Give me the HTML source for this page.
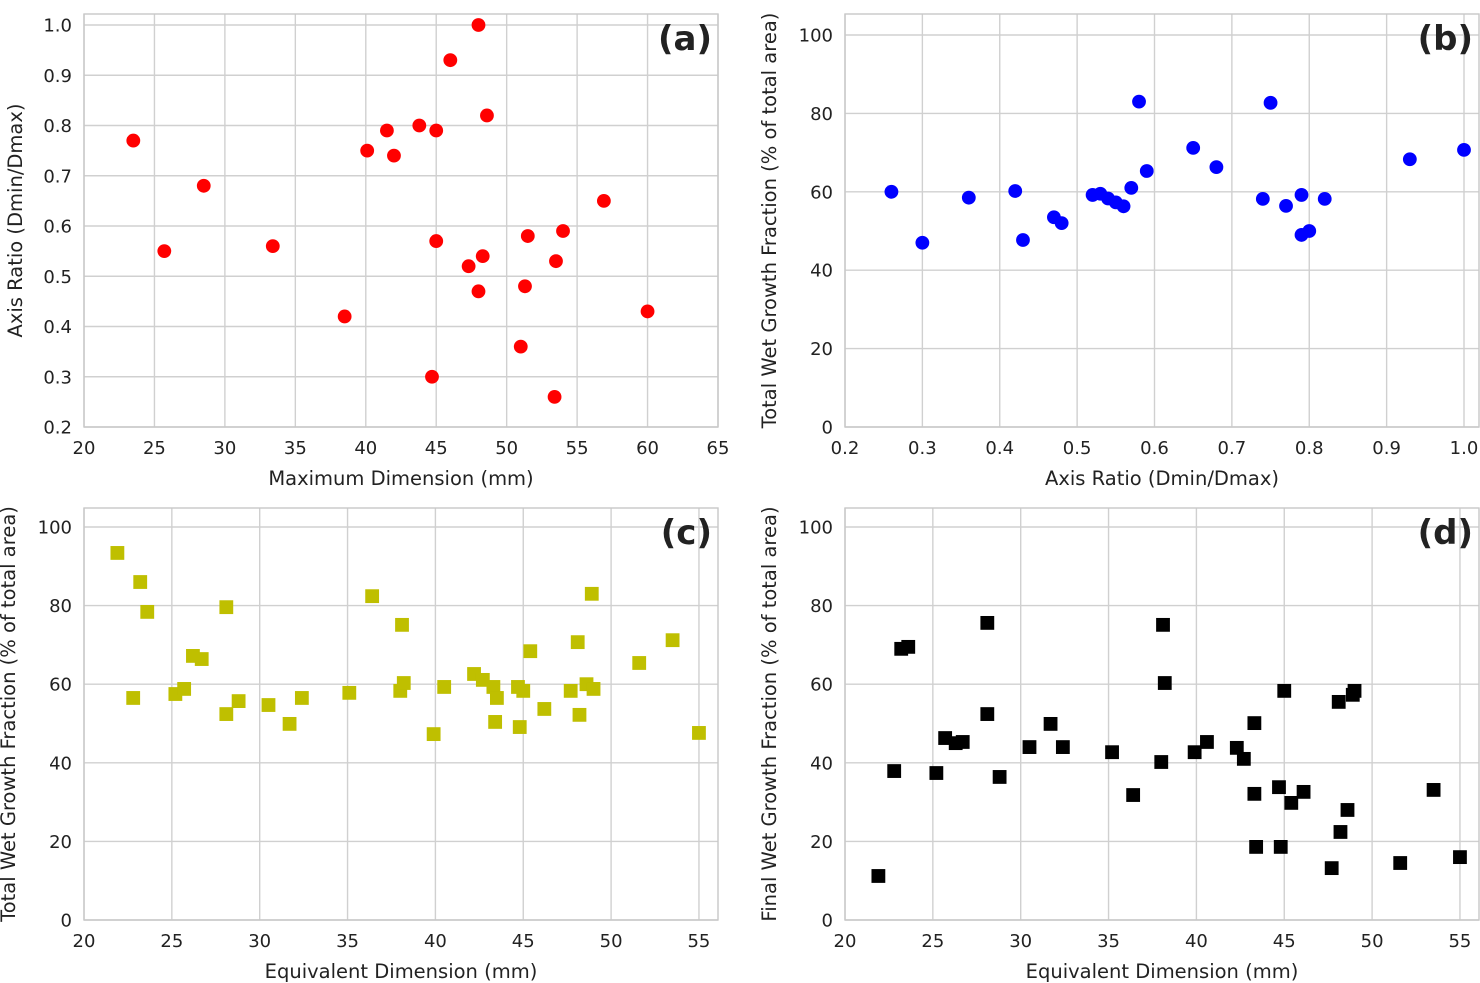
<!DOCTYPE html>
<html><head><meta charset="utf-8"><style>
html,body{margin:0;padding:0;background:#fff}
svg{display:block;font-family:"DejaVu Sans","Liberation Sans",sans-serif}
</style></head><body>
<svg id="chart" width="1480" height="983"></svg>
<script>
const aX=[23.5,25.7,28.5,33.4,38.5,40.1,41.5,42,43.8,44.7,45,45,46,47.3,48,48,48.3,48.6,51,51.3,51.5,53.4,53.5,54,56.9,60];
const aY=[0.77,0.55,0.68,0.56,0.42,0.75,0.79,0.74,0.80,0.30,0.79,0.57,0.93,0.52,1.0,0.47,0.54,0.82,0.36,0.48,0.58,0.26,0.53,0.59,0.65,0.43];
const bX=[0.26,0.30,0.36,0.42,0.43,0.47,0.48,0.52,0.53,0.54,0.55,0.56,0.57,0.58,0.59,0.65,0.68,0.74,0.75,0.77,0.79,0.79,0.80,0.82,0.93,1.0];
const bY=[60,47,58.5,60.2,47.7,53.5,52,59.2,59.5,58.3,57.3,56.3,61,83,65.3,71.2,66.3,58.2,82.7,56.4,59.2,49,50,58.2,68.3,70.7];
const cX=[21.9,22.8,23.2,23.6,25.2,25.7,26.2,26.7,28.1,28.1,28.8,30.5,31.7,32.4,35.1,36.4,38,38.1,38.2,39.9,40.5,42.2,42.7,43.3,43.4,43.5,44.7,44.8,45,45.4,46.2,47.7,48.1,48.2,48.6,48.9,49,51.6,53.5,55];
const cY=[93.4,56.5,86,78.4,57.5,58.8,67.2,66.4,79.6,52.4,55.7,54.7,49.9,56.5,57.8,82.4,58.3,75.1,60.3,47.3,59.3,62.6,61.1,59.3,50.4,56.5,59.3,49.1,58.3,68.4,53.7,58.3,70.7,52.2,60,83,58.8,65.4,71.2,47.6];
const dX=[21.9,22.8,23.2,23.6,25.2,25.7,26.3,26.7,28.1,28.1,28.8,30.5,31.7,32.4,35.2,36.4,38,38.1,38.2,39.9,40.6,42.3,42.7,43.3,43.3,43.4,44.7,44.8,45,45.4,46.1,47.7,48.1,48.2,48.6,48.9,49,51.6,53.5,55];
const dY=[11.2,37.9,69,69.5,37.4,46.3,45,45.3,75.6,52.4,36.4,44,49.9,44,42.7,31.8,40.2,75.1,60.3,42.7,45.3,43.8,41,50.1,32.1,18.6,33.8,18.6,58.3,29.8,32.6,13.2,55.5,22.4,28,57.3,58.3,14.5,33.1,16];
const xTicksA=[20,25,30,35,40,45,50,55,60,65];
const yTicksA=[0.2,0.3,0.4,0.5,0.6,0.7,0.8,0.9,1.0];
const xTicksB=[0.2,0.3,0.4,0.5,0.6,0.7,0.8,0.9,1.0];
const yTicksPct=[0,20,40,60,80,100];
const xTicksCD=[20,25,30,35,40,45,50,55];

const svg=document.getElementById('chart');
const NS='http://www.w3.org/2000/svg';
function mk(tag,attrs,parent){const e=document.createElementNS(NS,tag);for(const k in attrs)e.setAttribute(k,attrs[k]);(parent||svg).appendChild(e);return e;}

function panel(o){
  const g=mk('g',{});
  
  
  const sx=v=>o.x0+(v-o.xmin)/(o.xmax-o.xmin)*(o.x1-o.x0);
  const sy=v=>o.y1-(v-o.ymin)/(o.ymax-o.ymin)*(o.y1-o.y0);
  o.xt.forEach(t=>{
    const l=mk('line',{x1:sx(t),x2:sx(t),y1:o.y0,y2:o.y1,stroke:'#d0d0d0','stroke-width':1.4},g);
    
    const tx=mk('text',{x:sx(t),y:o.y1+27,'text-anchor':'middle','font-size':18,fill:'#222'},g);
    tx.textContent=o.xf(t);
    
  });
  o.yt.forEach(t=>{
    const l=mk('line',{x1:o.x0,x2:o.x1,y1:sy(t),y2:sy(t),stroke:'#d0d0d0','stroke-width':1.4},g);
    
    const tx=mk('text',{x:o.x0-12,y:sy(t)+6.5,'text-anchor':'end','font-size':18,fill:'#222'},g);
    tx.textContent=o.yf(t);
    
  });
  const fr=mk('rect',{x:o.x0,y:o.y0,width:o.x1-o.x0,height:o.y1-o.y0,fill:'none',stroke:'#c8c8c8','stroke-width':1.4},g);
  
  o.X.forEach((v,i)=>{
    let m;
    if(o.marker==='circle') m=mk('circle',{cx:sx(v),cy:sy(o.Y[i]),r:6.9,fill:o.color},g);
    else m=mk('rect',{x:sx(v)-6.9,y:sy(o.Y[i])-6.9,width:13.8,height:13.8,fill:o.color},g);
    
  });
  const xl=mk('text',{x:(o.x0+o.x1)/2,y:o.y1+58,'text-anchor':'middle','font-size':19.5,fill:'#222'},g);
  xl.textContent=o.xl;
  const yc=(o.y0+o.y1)/2;
  const yl=mk('text',{x:o.ylx,y:yc,'text-anchor':'middle','font-size':19.5,fill:'#222',transform:`rotate(-90 ${o.ylx} ${yc})`},g);
  yl.textContent=o.yl;
  const pl=mk('text',{x:o.x1-6,y:o.y0+36,'text-anchor':'end','font-size':34,'font-weight':'bold',fill:'#222'},g);
  pl.textContent='('+o.id+')';
}
const f1=t=>t.toFixed(1), f0=t=>String(t);
panel({id:'a',x0:84,x1:718,y0:14,y1:427,xmin:20,xmax:65,ymin:0.2,ymax:0.2+(427-14)/502.5,X:aX,Y:aY,xt:xTicksA,yt:yTicksA,xf:f0,yf:f1,color:'#ff0000',marker:'circle',xl:'Maximum Dimension (mm)',yl:'Axis Ratio (Dmin/Dmax)',ylx:22});
panel({id:'b',x0:845,x1:1479,y0:14,y1:427,xmin:0.2,xmax:0.2+(1479-845)/773.75,ymin:0,ymax:(427-14)/3.92,X:bX,Y:bY,xt:xTicksB,yt:yTicksPct,xf:f1,yf:f0,color:'#0000ff',marker:'circle',xl:'Axis Ratio (Dmin/Dmax)',yl:'Total Wet Growth Fraction (% of total area)',ylx:776});
panel({id:'c',x0:84,x1:718,y0:508,y1:920,xmin:20,xmax:20+(718-84)/17.57,ymin:0,ymax:(920-508)/3.93,X:cX,Y:cY,xt:xTicksCD,yt:yTicksPct,xf:f0,yf:f0,color:'#bfbf00',marker:'square',xl:'Equivalent Dimension (mm)',yl:'Total Wet Growth Fraction (% of total area)',ylx:15});
panel({id:'d',x0:845,x1:1479,y0:508,y1:920,xmin:20,xmax:20+(1479-845)/17.57,ymin:0,ymax:(920-508)/3.93,X:dX,Y:dY,xt:xTicksCD,yt:yTicksPct,xf:f0,yf:f0,color:'#000000',marker:'square',xl:'Equivalent Dimension (mm)',yl:'Final Wet Growth Fraction (% of total area)',ylx:776});
</script>
</body></html>
